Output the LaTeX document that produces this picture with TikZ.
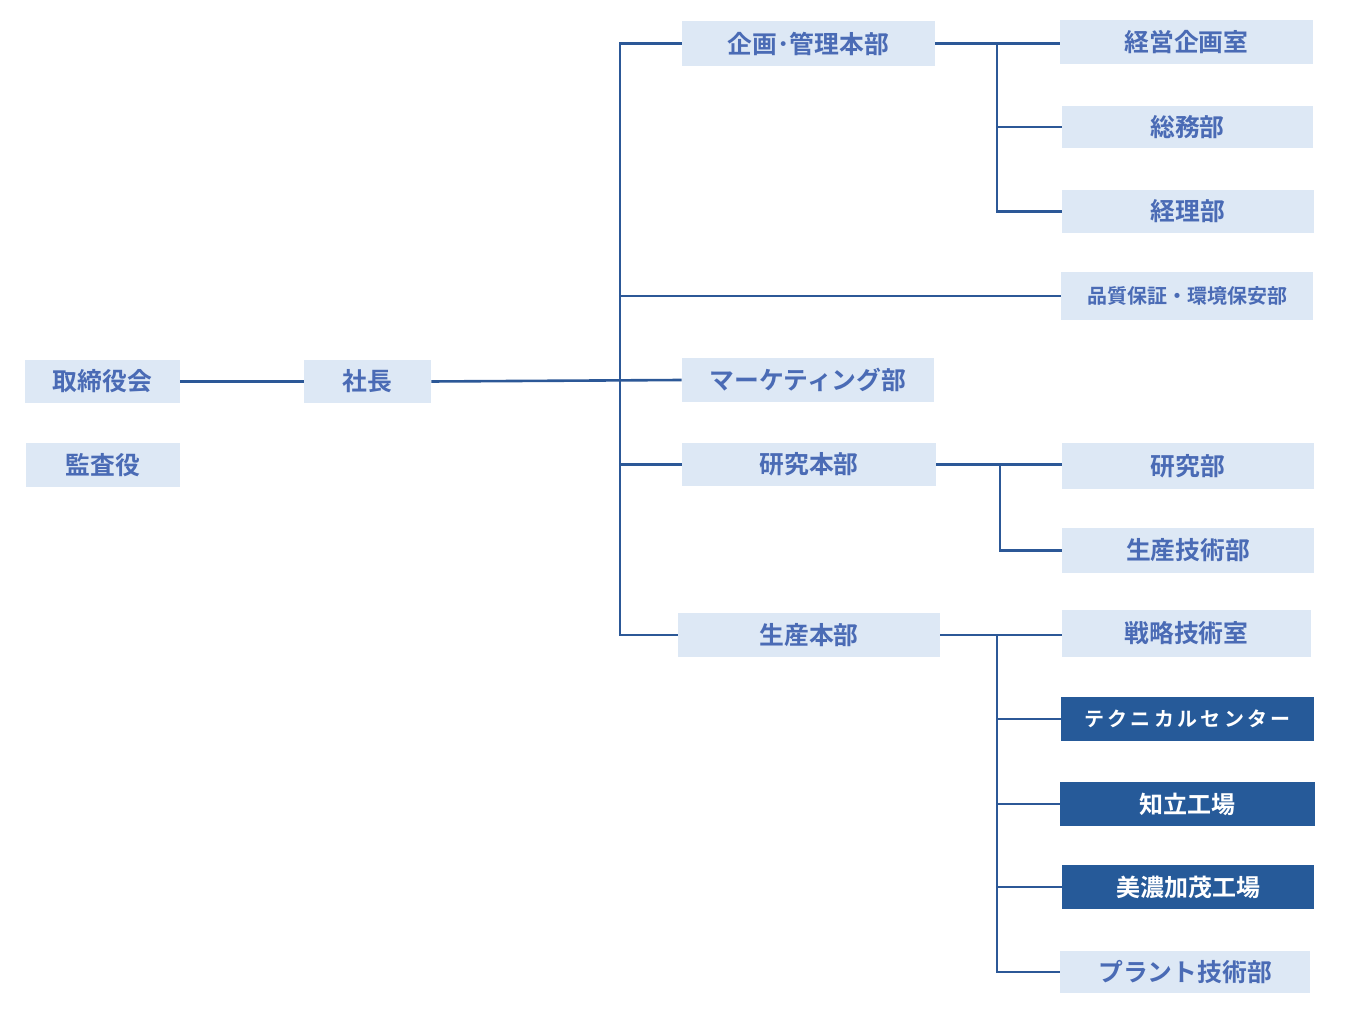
\documentclass[tikz,border=0pt]{standalone}
\usepackage{fontspec}
\newfontfamily\jp{Noto Sans CJK JP}[BoldFont={Noto Sans CJK JP Bold}]
\definecolor{boxfill}{HTML}{DDE8F5}
\definecolor{boxtext}{HTML}{4A6BB5}
\definecolor{linecol}{HTML}{2C5897}
\definecolor{darkfill}{HTML}{265A99}
\begin{document}
\begin{tikzpicture}[x=0.5pt,y=-0.5pt,
  lbox/.style={fill=boxfill,text=boxtext,inner sep=0pt,font=\jp\bfseries\fontsize{12.4pt}{14pt}\selectfont},
  dbox/.style={fill=darkfill,text=white,inner sep=0pt,font=\jp\bfseries\fontsize{12pt}{14pt}\selectfont},
  conn/.style={draw=linecol,line width=1.3pt}]
\useasboundingbox (0,0) rectangle (1348,1020);
% left
\node[lbox,minimum width=77.5pt,minimum height=21.5pt] (torishimari) at (102.5,381.5) {取締役会};
\node[lbox,minimum width=77pt,minimum height=22pt] (kansa) at (103,465) {監査役};
\node[lbox,minimum width=63.5pt,minimum height=21.5pt] (shacho) at (367.5,381.5) {社長};
% middle
\node[lbox,minimum width=126.5pt,minimum height=22.5pt] (kikaku) at (808.5,43.5) {企画･管理本部};
\node[lbox,minimum width=126pt,minimum height=22pt] (mkt) at (808,380) {マーケティング部};
\node[lbox,minimum width=127pt,minimum height=21.5pt] (kenkyuhon) at (809,464.5) {研究本部};
\node[lbox,minimum width=131pt,minimum height=22pt] (seisanhon) at (809,635) {生産本部};
% right
\node[lbox,minimum width=126.5pt,minimum height=22pt] (keiei) at (1186.5,42) {経営企画室};
\node[lbox,minimum width=125.5pt,minimum height=21pt] (somu) at (1187.5,127) {総務部};
\node[lbox,minimum width=126pt,minimum height=21.5pt] (keiri) at (1188,211.5) {経理部};
\node[lbox,minimum width=126pt,minimum height=24pt,font=\jp\bfseries\fontsize{10pt}{12pt}\selectfont] (hinshitsu) at (1187,296) {品質保証・環境保安部};
\node[lbox,minimum width=126pt,minimum height=23pt] (kenkyu) at (1188,466) {研究部};
\node[lbox,minimum width=126pt,minimum height=22.5pt] (seigi) at (1188,550.5) {生産技術部};
\node[lbox,minimum width=124.5pt,minimum height=23.5pt] (senryaku) at (1186.5,633.5) {戦略技術室};
\node[dbox,minimum width=126.5pt,minimum height=22pt,font=\jp\bfseries\fontsize{10pt}{12pt}\selectfont] (tech) at (1187.5,719) {テ\,ク\,ニ\,カ\,ル\,セ\,ン\,タ\,ー};
\node[dbox,minimum width=127.5pt,minimum height=22pt] (chiryu) at (1187.5,804) {知立工場};
\node[dbox,minimum width=126pt,minimum height=22pt] (minokamo) at (1188,887) {美濃加茂工場};
\node[lbox,minimum width=125pt,minimum height=21pt] (plant) at (1185,972) {プラント技術部};
% trunk coordinates
\coordinate (tk) at (620,0);
\coordinate (b1) at (997,0);
\coordinate (b2) at (1000,0);
\coordinate (b3) at (997,0);
% connectors
\draw[conn] (torishimari.east) -- (shacho.west);
\draw[conn] (shacho.east) -- (mkt.west);
\draw[conn] (kikaku.west) -- (kikaku.west -| tk) -- (seisanhon.west -| tk) -- (seisanhon.west);
\draw[conn] (tk |- hinshitsu.west) -- (hinshitsu.west);
\draw[conn] (tk |- kenkyuhon.west) -- (kenkyuhon.west);
% branch 1
\draw[conn] (kikaku.east) -- (keiei.west |- kikaku.east);
\draw[conn] (b1 |- kikaku.east) -- (b1 |- keiri.west) -- (keiri.west);
\draw[conn] (b1 |- somu.west) -- (somu.west);
% branch 2
\draw[conn] (kenkyuhon.east) -- (kenkyu.west |- kenkyuhon.east);
\draw[conn] (b2 |- kenkyuhon.east) -- (b2 |- seigi.west) -- (seigi.west);
% branch 3
\draw[conn] (seisanhon.east) -- (senryaku.west |- seisanhon.east);
\draw[conn] (b3 |- seisanhon.east) -- (b3 |- plant.west) -- (plant.west);
\draw[conn] (b3 |- tech.west) -- (tech.west);
\draw[conn] (b3 |- chiryu.west) -- (chiryu.west);
\draw[conn] (b3 |- minokamo.west) -- (minokamo.west);
\end{tikzpicture}
\end{document}
